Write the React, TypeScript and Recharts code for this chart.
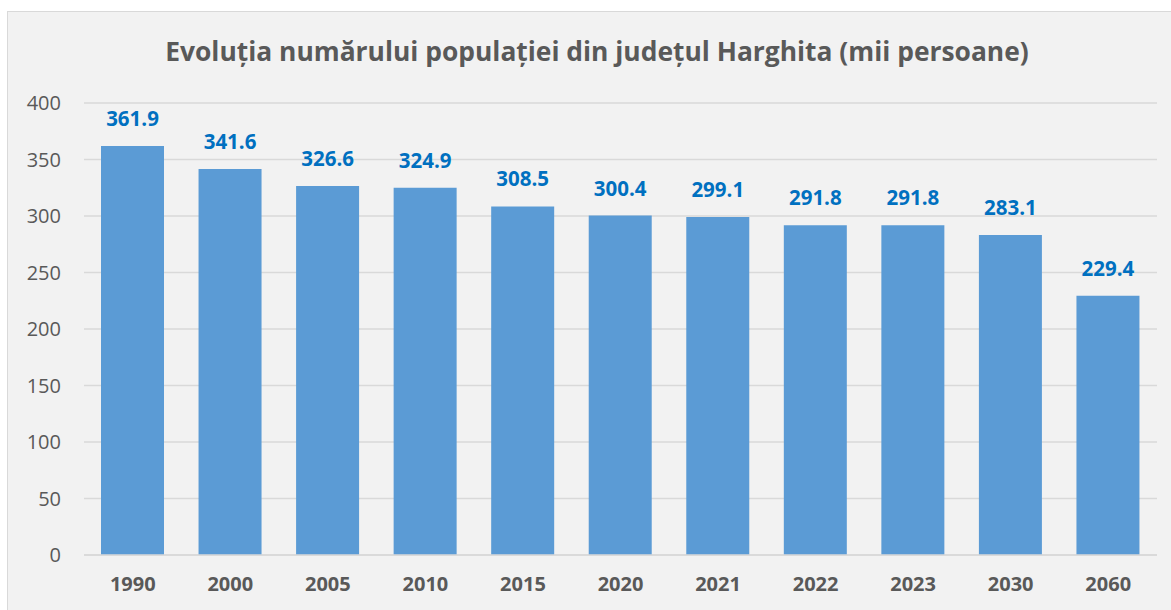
import React from 'react';
import { BarChart, Bar, XAxis, YAxis, CartesianGrid, LabelList } from 'recharts';

const years = ['1990', '2000', '2005', '2010', '2015', '2020', '2021', '2022', '2023', '2030', '2060'];
const population = [361.9, 341.6, 326.6, 324.9, 308.5, 300.4, 299.1, 291.8, 291.8, 283.1, 229.4];
const yTicks = [0, 50, 100, 150, 200, 250, 300, 350, 400];

const data = years.map((year, i) => ({ year, value: population[i] }));

const FONT = '"Open Sans", sans-serif';

export default function App() {
  return (
    <div style={{ position: 'fixed', left: 0, top: 0, width: 1171, height: 610, background: '#fff', overflow: 'hidden' }}>
      <div
        style={{
          position: 'absolute', left: 7, top: 11, width: 1180, height: 620,
          background: '#f2f2f2', border: '1px solid #d9d9d9',
        }}
      />
      <div style={{ position: 'absolute', left: 0, top: 0 }}>
        <BarChart
          width={1171}
          height={610}
          data={data}
          margin={{ top: 103, right: 14, left: 24, bottom: 25 }}
        >
          <text
            x={597}
            y={61}
            textAnchor="middle"
            style={{ fontFamily: FONT, fontWeight: 700, fontSize: 26.4, fill: '#595959' }}
          >
            Evoluția numărului populației din județul Harghita (mii persoane)
          </text>
          <CartesianGrid vertical={false} stroke="#d9d9d9" strokeWidth={1.5} />
          <XAxis
            dataKey="year"
            axisLine={{ stroke: '#d9d9d9', strokeWidth: 1.5 }}
            tickLine={false}
            tickSize={0}
            tickMargin={22}
            height={30}
            tick={{ fill: '#595959', fontSize: 20, fontWeight: 700, fontFamily: FONT }}
          />
          <YAxis
            domain={[0, 400]}
            ticks={yTicks}
            axisLine={false}
            tickLine={false}
            tickSize={0}
            tickMargin={23}
            width={60}
            tick={{ fill: '#595959', fontSize: 20, fontFamily: FONT }}
          />
          <Bar dataKey="value" fill="#5b9bd5" barSize={63} isAnimationActive={false}>
            <LabelList
              dataKey="value"
              position="top"
              offset={20}
              formatter={(v: number) => v.toFixed(1)}
              style={{ fill: '#0070c0', fontSize: 20.5, fontWeight: 700, fontFamily: FONT }}
            />
          </Bar>
        </BarChart>
      </div>
    </div>
  );
}
